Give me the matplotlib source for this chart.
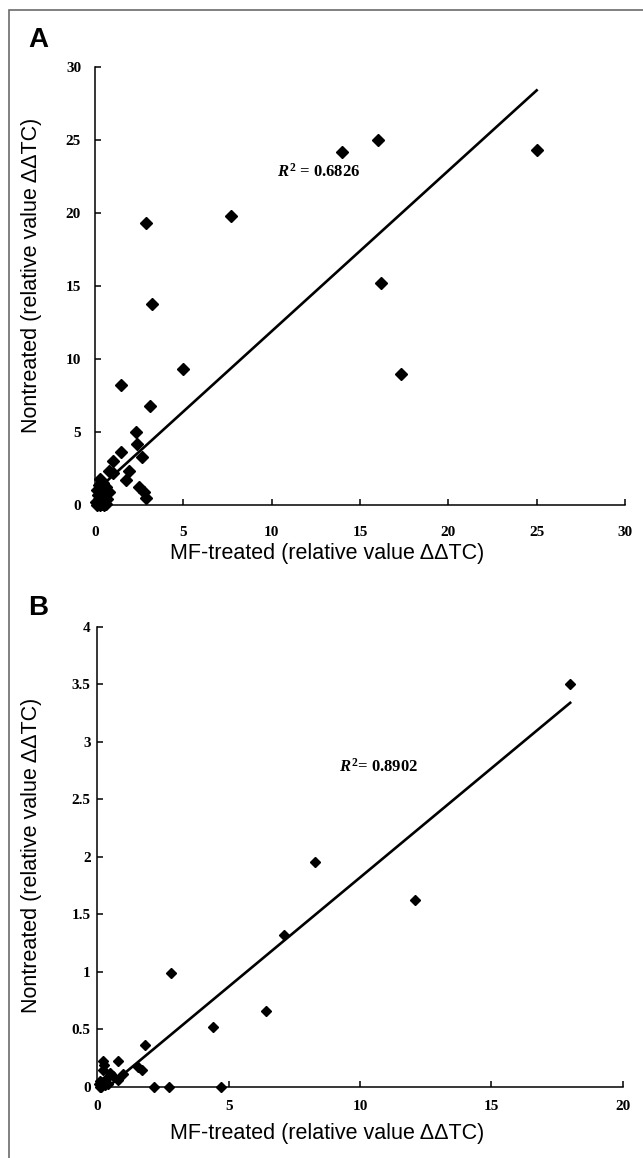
import numpy as np
import matplotlib
matplotlib.use('Agg')
import matplotlib.pyplot as plt
from matplotlib.patches import Rectangle
from matplotlib.ticker import FuncFormatter

plt.rcParams['mathtext.fontset'] = 'custom'
plt.rcParams['mathtext.rm'] = 'Liberation Serif:bold'
plt.rcParams['mathtext.it'] = 'Liberation Serif:italic:bold'

# Panel A: MF-treated vs nontreated (relative value ddTC)
mf_a = [25.0, 14.0, 16.0, 7.7, 2.9, 3.2, 16.2, 17.3, 5.0, 1.45, 3.1, 2.3, 2.35,
        1.47, 2.64, 1.0, 0.8, 1.0, 1.9, 1.75, 2.5, 2.77, 2.9,
        0.1, 0.2, 0.3, 0.5, 0.6, 0.2, 0.4, 0.15, 0.3, 0.5, 0.1, 0.35, 0.6,
        0.2, 0.45, 0.3, 0.7, 0.8, 0.05, 0.4]
non_a = [24.3, 24.2, 25.0, 19.8, 19.3, 13.8, 15.2, 9.0, 9.3, 8.2, 6.8, 5.0, 4.2,
         3.6, 3.3, 3.0, 2.3, 2.2, 2.3, 1.7, 1.2, 0.9, 0.5,
         0.0, 0.1, 0.0, 0.0, 0.1, 0.4, 0.3, 0.7, 0.8, 0.6, 1.0, 1.1, 1.2,
         1.4, 1.5, 1.8, 0.4, 0.9, 0.2, 0.05]
trend_a = [1.1, 0.9]      # slope, intercept of the trendline
r2_a = 0.6826

# Panel B
mf_b = [18.0, 12.1, 8.3, 7.1, 6.4, 4.4, 2.8, 4.7, 2.72, 2.15, 1.81, 0.22, 0.25,
        0.79, 1.53, 1.68, 0.22, 0.98, 0.6, 0.79, 0.35, 0.48, 0.1, 0.05, 0.3,
        0.15, 0.4, 0.2, 0.1]
non_b = [3.5, 1.62, 1.95, 1.32, 0.66, 0.52, 0.99, 0.0, 0.0, 0.0, 0.36, 0.225, 0.19,
         0.22, 0.17, 0.146, 0.14, 0.11, 0.09, 0.06, 0.075, 0.115, 0.05, 0.02, 0.01,
         0.0, 0.02, 0.04, 0.0]
trend_b = [0.19, -0.08]
r2_b = 0.8902

W, H = 643, 1158
fig = plt.figure(figsize=(W / 100, H / 100), dpi=100)

# grey frame around the figure
fig.add_artist(Rectangle((9 / W, -0.05), 1.1, 1 - 10 / H + 0.05, transform=fig.transFigure,
                         fill=False, edgecolor='#6b6b6b', linewidth=1.2))


def fx(px):
    return px / W


def fy(py):
    return 1 - py / H


def style_axes(ax, xmax, ymax, xstep, ystep, xpad, ypad):
    ax.set_xlim(0, xmax)
    ax.set_ylim(0, ymax)
    ax.set_xticks(np.arange(0, xmax + 0.001, xstep))
    ax.set_yticks(np.arange(0, ymax + 0.001, ystep))
    ax.yaxis.set_major_formatter(FuncFormatter(lambda v, p: '%g' % v))
    ax.xaxis.set_major_formatter(FuncFormatter(lambda v, p: '%g' % v))
    for s in ['top', 'right']:
        ax.spines[s].set_visible(False)
    for s in ['left', 'bottom']:
        ax.spines[s].set_linewidth(1.1)
    ax.tick_params(direction='in', length=4, width=1.1)
    ax.tick_params(axis='x', pad=xpad)
    ax.tick_params(axis='y', pad=ypad)
    for lab in ax.get_xticklabels() + ax.get_yticklabels():
        lab.set_fontfamily('Liberation Serif')
        lab.set_fontweight('bold')
        lab.set_fontsize(11)


def draw_panel(ax, x, y, trend, ms):
    x = np.array(x)
    y = np.array(y)
    ax.plot(x, y, 'D', color='black', markersize=ms, clip_on=False, zorder=3)
    # linear trendline over the data range
    xs = np.linspace(x.min(), x.max(), 2)
    ax.plot(xs, trend[0] * xs + trend[1], color='black', linewidth=1.9, zorder=2)


# Panel A
ax1 = fig.add_axes([fx(95), fy(505), fx(625) - fx(95), fy(67) - fy(505)])
draw_panel(ax1, mf_a, non_a, trend_a, 6.2)
style_axes(ax1, 30, 30, 5, 5, 15, 10)
ax1.text(10.3, 22.8, r'$\mathit{R}^{2}$ = %.4f' % r2_a, fontfamily='Liberation Serif',
         fontweight='bold', fontsize=12, va='center')

# Panel B
ax2 = fig.add_axes([fx(97.5), fy(1086.5), fx(622.7) - fx(97.5), fy(627) - fy(1086.5)])
draw_panel(ax2, mf_b, non_b, trend_b, 5.0)
style_axes(ax2, 20, 4, 5, 0.5, 10, 5)
ax2.text(9.2, 2.78, r'$\mathit{R}^{2}$= %.4f' % r2_b, fontfamily='Liberation Serif',
         fontweight='bold', fontsize=12, va='center')

xlab = 'MF-treated (relative value \u0394\u0394TC)'
ylab = 'Nontreated (relative value \u0394\u0394TC)'
lab_kw = dict(fontfamily='Liberation Sans', fontsize=15.5, ha='center', va='center')
fig.text(fx(327), fy(554), xlab, **lab_kw)
fig.text(fx(327), fy(1134), xlab, **lab_kw)
fig.text(fx(32), fy(275), ylab, rotation=90, **lab_kw)
fig.text(fx(32), fy(855), ylab, rotation=90, **lab_kw)

fig.text(fx(28), fy(40), 'A', fontfamily='Liberation Sans', fontweight='bold',
         fontsize=20, ha='left', va='center')
fig.text(fx(28), fy(608), 'B', fontfamily='Liberation Sans', fontweight='bold',
         fontsize=20, ha='left', va='center')

fig.savefig('out.png', dpi=100)
